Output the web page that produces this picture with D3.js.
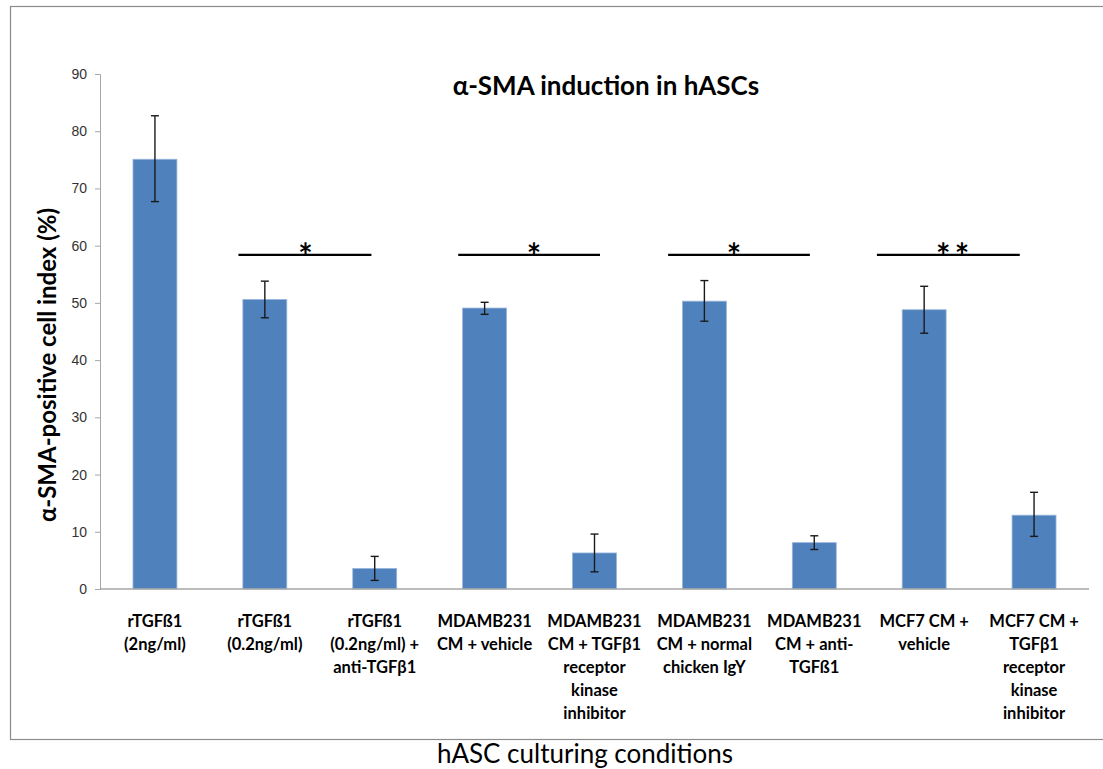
<!DOCTYPE html>
<html>
<head>
<meta charset="utf-8">
<script src="https://cdn.jsdelivr.net/npm/d3@7"></script>
<style>
  body { margin: 0; background: #fff; }
  svg { display: block; font-family: Lato, "Open Sans", sans-serif; }
</style>
</head>
<body>
<div id="chart"></div>
<script>
const width = 1103;
const height = 769;

// category labels, one array of lines per bar
const categories = [
  ["rTGFß1", "(2ng/ml)"],
  ["rTGFß1", "(0.2ng/ml)"],
  ["rTGFß1", "(0.2ng/ml) +", "anti-TGFβ1"],
  ["MDAMB231", "CM + vehicle"],
  ["MDAMB231", "CM + TGFβ1", "receptor", "kinase", "inhibitor"],
  ["MDAMB231", "CM + normal", "chicken IgY"],
  ["MDAMB231", "CM + anti-", "TGFß1"],
  ["MCF7 CM +", "vehicle"],
  ["MCF7 CM +", "TGFβ1", "receptor", "kinase", "inhibitor"]
];
const values = [75.1, 50.6, 3.6, 49.1, 6.3, 50.3, 8.1, 48.8, 12.9];
const errHigh = [82.7, 53.8, 5.7, 50.1, 9.6, 53.9, 9.3, 52.9, 16.9];
const errLow = [67.7, 47.4, 1.5, 48.0, 3.0, 46.8, 6.9, 44.7, 9.2];
const yTicks = [0, 10, 20, 30, 40, 50, 60, 70, 80, 90];

// significance brackets, ends given in bar-index units (hand drawn in the original)
const sigStart = [0.76, 2.76, 4.67, 6.57];
const sigEnd = [1.97, 4.05, 5.96, 7.87];
const sigLabel = ["*", "*", "*", "* *"];
const sigLabelPos = [1.36, 3.44, 5.26, 7.25];
const sigLevel = 58.4;

const svg = d3.select('#chart')
  .append('svg')
  .attr('width', width)
  .attr('height', height);

// outer frame (right edge is cut off in the original)
svg.append('rect')
  .attr('x', 10.5).attr('y', 6.5)
  .attr('width', 1200).attr('height', 733)
  .attr('fill', 'none')
  .attr('stroke', '#8c8c8c')
  .attr('stroke-width', 1.2);

const plot = { left: 100, right: 1089, top: 74, bottom: 589 };

const x = d3.scaleBand()
  .domain(d3.range(categories.length))
  .range([plot.left, plot.right])
  .paddingInner(0.6)
  .paddingOuter(0.3);

// bar index -> bar centre, for the annotations
const xc = d3.scaleLinear()
  .domain([0, categories.length - 1])
  .range([x(0) + x.bandwidth() / 2, x(categories.length - 1) + x.bandwidth() / 2]);

const y = d3.scaleLinear()
  .domain([0, 90])
  .range([plot.bottom, plot.top]);

// y axis
const yAxis = svg.append('g')
  .attr('transform', `translate(${plot.left},0)`)
  .call(d3.axisLeft(y).tickValues(yTicks).tickSize(5).tickPadding(8));
yAxis.select('.domain').attr('stroke', '#a6a6a6');
yAxis.selectAll('.tick line').attr('stroke', '#a6a6a6');
yAxis.selectAll('.tick text')
  .attr('fill', '#333')
  .style('font-size', '14px');

// bars
svg.append('g').selectAll('rect')
  .data(values)
  .join('rect')
  .attr('x', (d, i) => x(i))
  .attr('y', d => y(d))
  .attr('width', x.bandwidth())
  .attr('height', d => y(0) - y(d))
  .attr('fill', '#4f81bd')
  .attr('stroke', '#9ab7dc')
  .attr('stroke-width', 0.8);

// baseline
svg.append('line')
  .attr('x1', plot.left).attr('x2', plot.right)
  .attr('y1', y(0)).attr('y2', y(0))
  .attr('stroke', '#a6a6a6')
  .attr('stroke-width', 1.5);

// error bars
const err = svg.append('g')
  .attr('stroke', '#1a1a1a')
  .attr('stroke-width', 1.4);
values.forEach((v, i) => {
  const cx = x(i) + x.bandwidth() / 2;
  err.append('line')
    .attr('x1', cx).attr('x2', cx)
    .attr('y1', y(errHigh[i])).attr('y2', y(errLow[i]));
  [errHigh[i], errLow[i]].forEach(e => {
    err.append('line')
      .attr('x1', cx - 4).attr('x2', cx + 4)
      .attr('y1', y(e)).attr('y2', y(e));
  });
});

// significance lines
sigStart.forEach((s, i) => {
  svg.append('line')
    .attr('x1', xc(s)).attr('x2', xc(sigEnd[i]))
    .attr('y1', y(sigLevel)).attr('y2', y(sigLevel))
    .attr('stroke', '#000')
    .attr('stroke-width', 2.2);
  svg.append('text')
    .attr('x', xc(sigLabelPos[i]))
    .attr('y', y(sigLevel) + 13)
    .attr('text-anchor', 'middle')
    .style('font-size', '34px')
    .style('font-weight', 'bold')
    .style('letter-spacing', '-2px')
    .text(sigLabel[i]);
});

// category labels
const labels = svg.append('g');
categories.forEach((lines, i) => {
  const t = labels.append('text')
    .attr('x', x(i) + x.bandwidth() / 2)
    .attr('y', 627)
    .attr('text-anchor', 'middle')
    .attr('fill', '#000')
    .style('font-size', '16.5px')
    .style('font-weight', 'bold');
  lines.forEach((ln, k) => {
    t.append('tspan')
      .attr('x', x(i) + x.bandwidth() / 2)
      .attr('dy', k === 0 ? 0 : 23)
      .text(ln);
  });
});

// title
svg.append('text')
  .attr('x', 606)
  .attr('y', 95)
  .attr('text-anchor', 'middle')
  .style('font-size', '26px')
  .style('font-weight', 'bold')
  .text('α-SMA induction in hASCs');

// y axis title
svg.append('text')
  .attr('transform', 'translate(56,365) rotate(-90)')
  .attr('text-anchor', 'middle')
  .style('font-size', '24px')
  .style('font-weight', 'bold')
  .text('α-SMA-positive cell index (%)');

// x axis title
svg.append('text')
  .attr('x', 585)
  .attr('y', 763)
  .attr('text-anchor', 'middle')
  .style('font-size', '26px')
  .text('hASC culturing conditions');
</script>
</body>
</html>
